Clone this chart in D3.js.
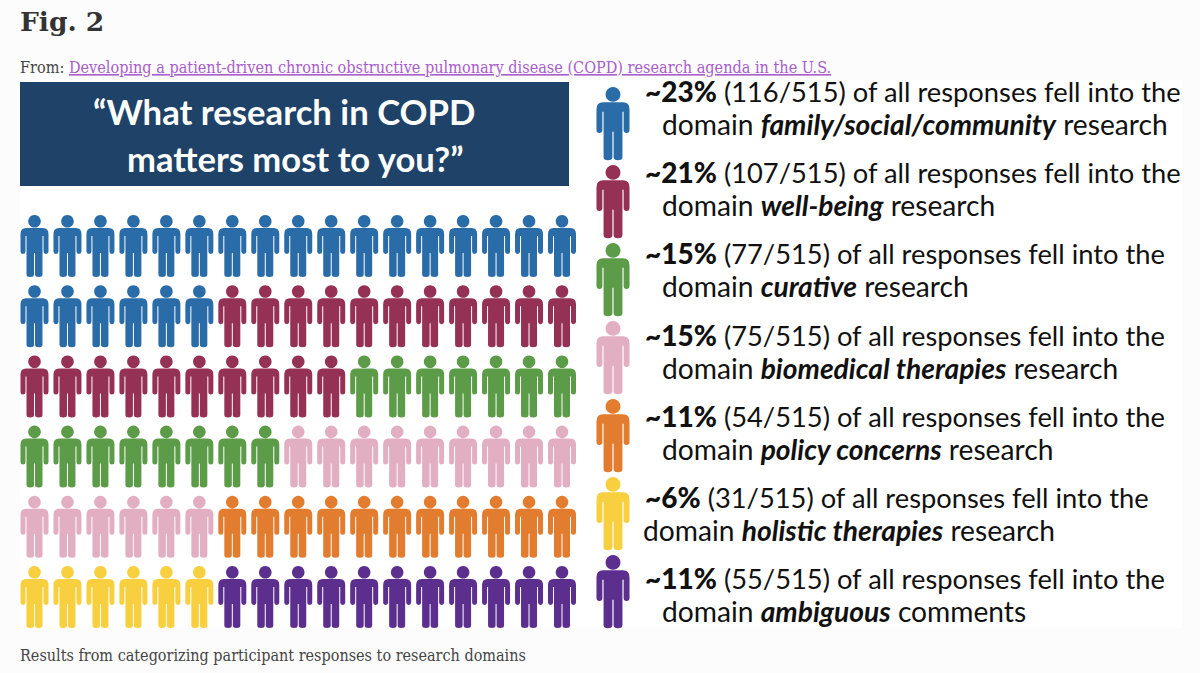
<!DOCTYPE html>
<html>
<head>
<meta charset="utf-8">
<script src="https://cdn.jsdelivr.net/npm/d3@7"></script>
<style>
  html, body { margin: 0; padding: 0; background: #fcfcfc; }
  svg { display: block; }
  .serif { font-family: "DejaVu Serif Condensed", "DejaVu Serif", serif; }
  .sans { font-family: Lato, sans-serif; }
</style>
</head>
<body>
<div class="chart"></div>
<script>
const domains = ["family/social/community", "well-being", "curative", "biomedical therapies", "policy concerns", "holistic therapies", "ambiguous"];
const percents = [23, 21, 15, 15, 11, 6, 11];
const responses = [116, 107, 77, 75, 54, 31, 55];
const iconCounts = [23, 21, 15, 15, 11, 6, 11];
const endings = ["research", "research", "research", "research", "research", "research", "comments"];
const total = 515;
const colors = ["#2a6ca8", "#963156", "#5c9c48", "#e2aec2", "#e27c2e", "#f8cf3e", "#5c2f8f"];

const width = 1200, height = 673;
const svg = d3.select(".chart").append("svg")
  .attr("width", width)
  .attr("height", height);

const colorScale = d3.scaleOrdinal().domain(domains).range(colors);

// one person, drawn around x=0 with the head top at y=0, 62 tall
const person = "M0,0a6.3,6.3 0 1 1 -0.01,0z" +
  "M-8.5,13H8.5Q14,13 14,19V36.5a2.5,2.5 0 0 1 -5,0V21H8V59.5a3.75,2.5 0 0 1 -7.5,0V38H-0.5V59.5" +
  "a3.75,2.5 0 0 1 -7.5,0V21H-9V36.5a2.5,2.5 0 0 1 -5,0V19Q-14,13 -8.5,13z";

svg.append("rect").attr("x", 20).attr("y", 80).attr("width", 1162).attr("height", 548).attr("fill", "#ffffff");

svg.append("text")
  .attr("x", 20).attr("y", 31)
  .attr("font-family", "DejaVu Serif").attr("font-size", 26.5).attr("font-weight", 700).attr("fill", "#333333")
  .text("Fig. 2");

const from = svg.append("text").attr("class", "serif")
  .attr("x", 20).attr("y", 73)
  .attr("font-size", 16.1).attr("fill", "#444444");
from.append("tspan").text("From: ");
from.append("tspan").attr("fill", "#a95ccb").attr("text-decoration", "underline")
  .text("Developing a patient-driven chronic obstructive pulmonary disease (COPD) research agenda in the U.S.");

svg.append("text").attr("class", "serif")
  .attr("x", 20).attr("y", 661)
  .attr("font-size", 16.05).attr("fill", "#444444")
  .text("Results from categorizing participant responses to research domains");

// banner
svg.append("rect").attr("x", 20).attr("y", 82).attr("width", 549).attr("height", 104).attr("fill", "#1e4268");
svg.append("text").attr("class", "sans")
  .attr("x", 93).attr("y", 125)
  .attr("font-size", 34.7).attr("font-weight", 700).attr("fill", "#ffffff")
  .text("\u201CWhat research in COPD");
svg.append("text").attr("class", "sans")
  .attr("x", 127).attr("y", 172)
  .attr("font-size", 34.6).attr("font-weight", 700).attr("fill", "#ffffff")
  .text("matters most to you?\u201D");

// icon grid, filled column by column along each row
const icons = domains.flatMap((d, i) => d3.range(iconCounts[i]).map(() => d));
const nCols = 17;
const nRows = Math.ceil(icons.length / nCols);
const xScale = d3.scalePoint().domain(d3.range(nCols)).range([34.5, 562]);
const yScale = d3.scalePoint().domain(d3.range(nRows)).range([215, 566]);

svg.append("g").selectAll("path")
  .data(icons)
  .enter()
  .append("path")
  .attr("d", person)
  .attr("transform", (d, i) => `translate(${xScale(i % nCols)},${yScale(Math.floor(i / nCols))})`)
  .attr("fill", d => colorScale(d));

// legend, icons and text do not share a pitch in the original
const iconY = d3.scalePoint().domain(domains).range([87, 555]);
const textY = d3.scalePoint().domain(domains).range([102, 589]);

svg.append("g").selectAll("path")
  .data(domains)
  .enter()
  .append("path")
  .attr("d", person)
  .attr("transform", d => `translate(613,${iconY(d)}) scale(1.18)`)
  .attr("fill", d => colorScale(d));

const line1 = svg.append("g").attr("class", "sans").selectAll("text")
  .data(domains)
  .enter()
  .append("text")
  .attr("x", 645)
  .attr("y", d => textY(d))
  .attr("font-size", 27.3)
  .attr("fill", "#111111");
line1.append("tspan").attr("font-weight", 900).attr("font-size", 28).text((d, i) => `~${percents[i]}%`);
line1.append("tspan").text((d, i) => ` (${responses[i]}/${total}) of all responses fell into the`);

const line2 = svg.append("g").attr("class", "sans").selectAll("text")
  .data(domains)
  .enter()
  .append("text")
  .attr("x", (d, i) => i === 5 ? 643 : 662)
  .attr("y", d => textY(d) + 33)
  .attr("font-size", 28.2)
  .attr("fill", "#111111");
line2.append("tspan").text("domain ");
line2.append("tspan").attr("font-weight", 700).attr("font-style", "italic").text(d => d);
line2.append("tspan").text((d, i) => " " + endings[i]);
</script>
</body>
</html>
